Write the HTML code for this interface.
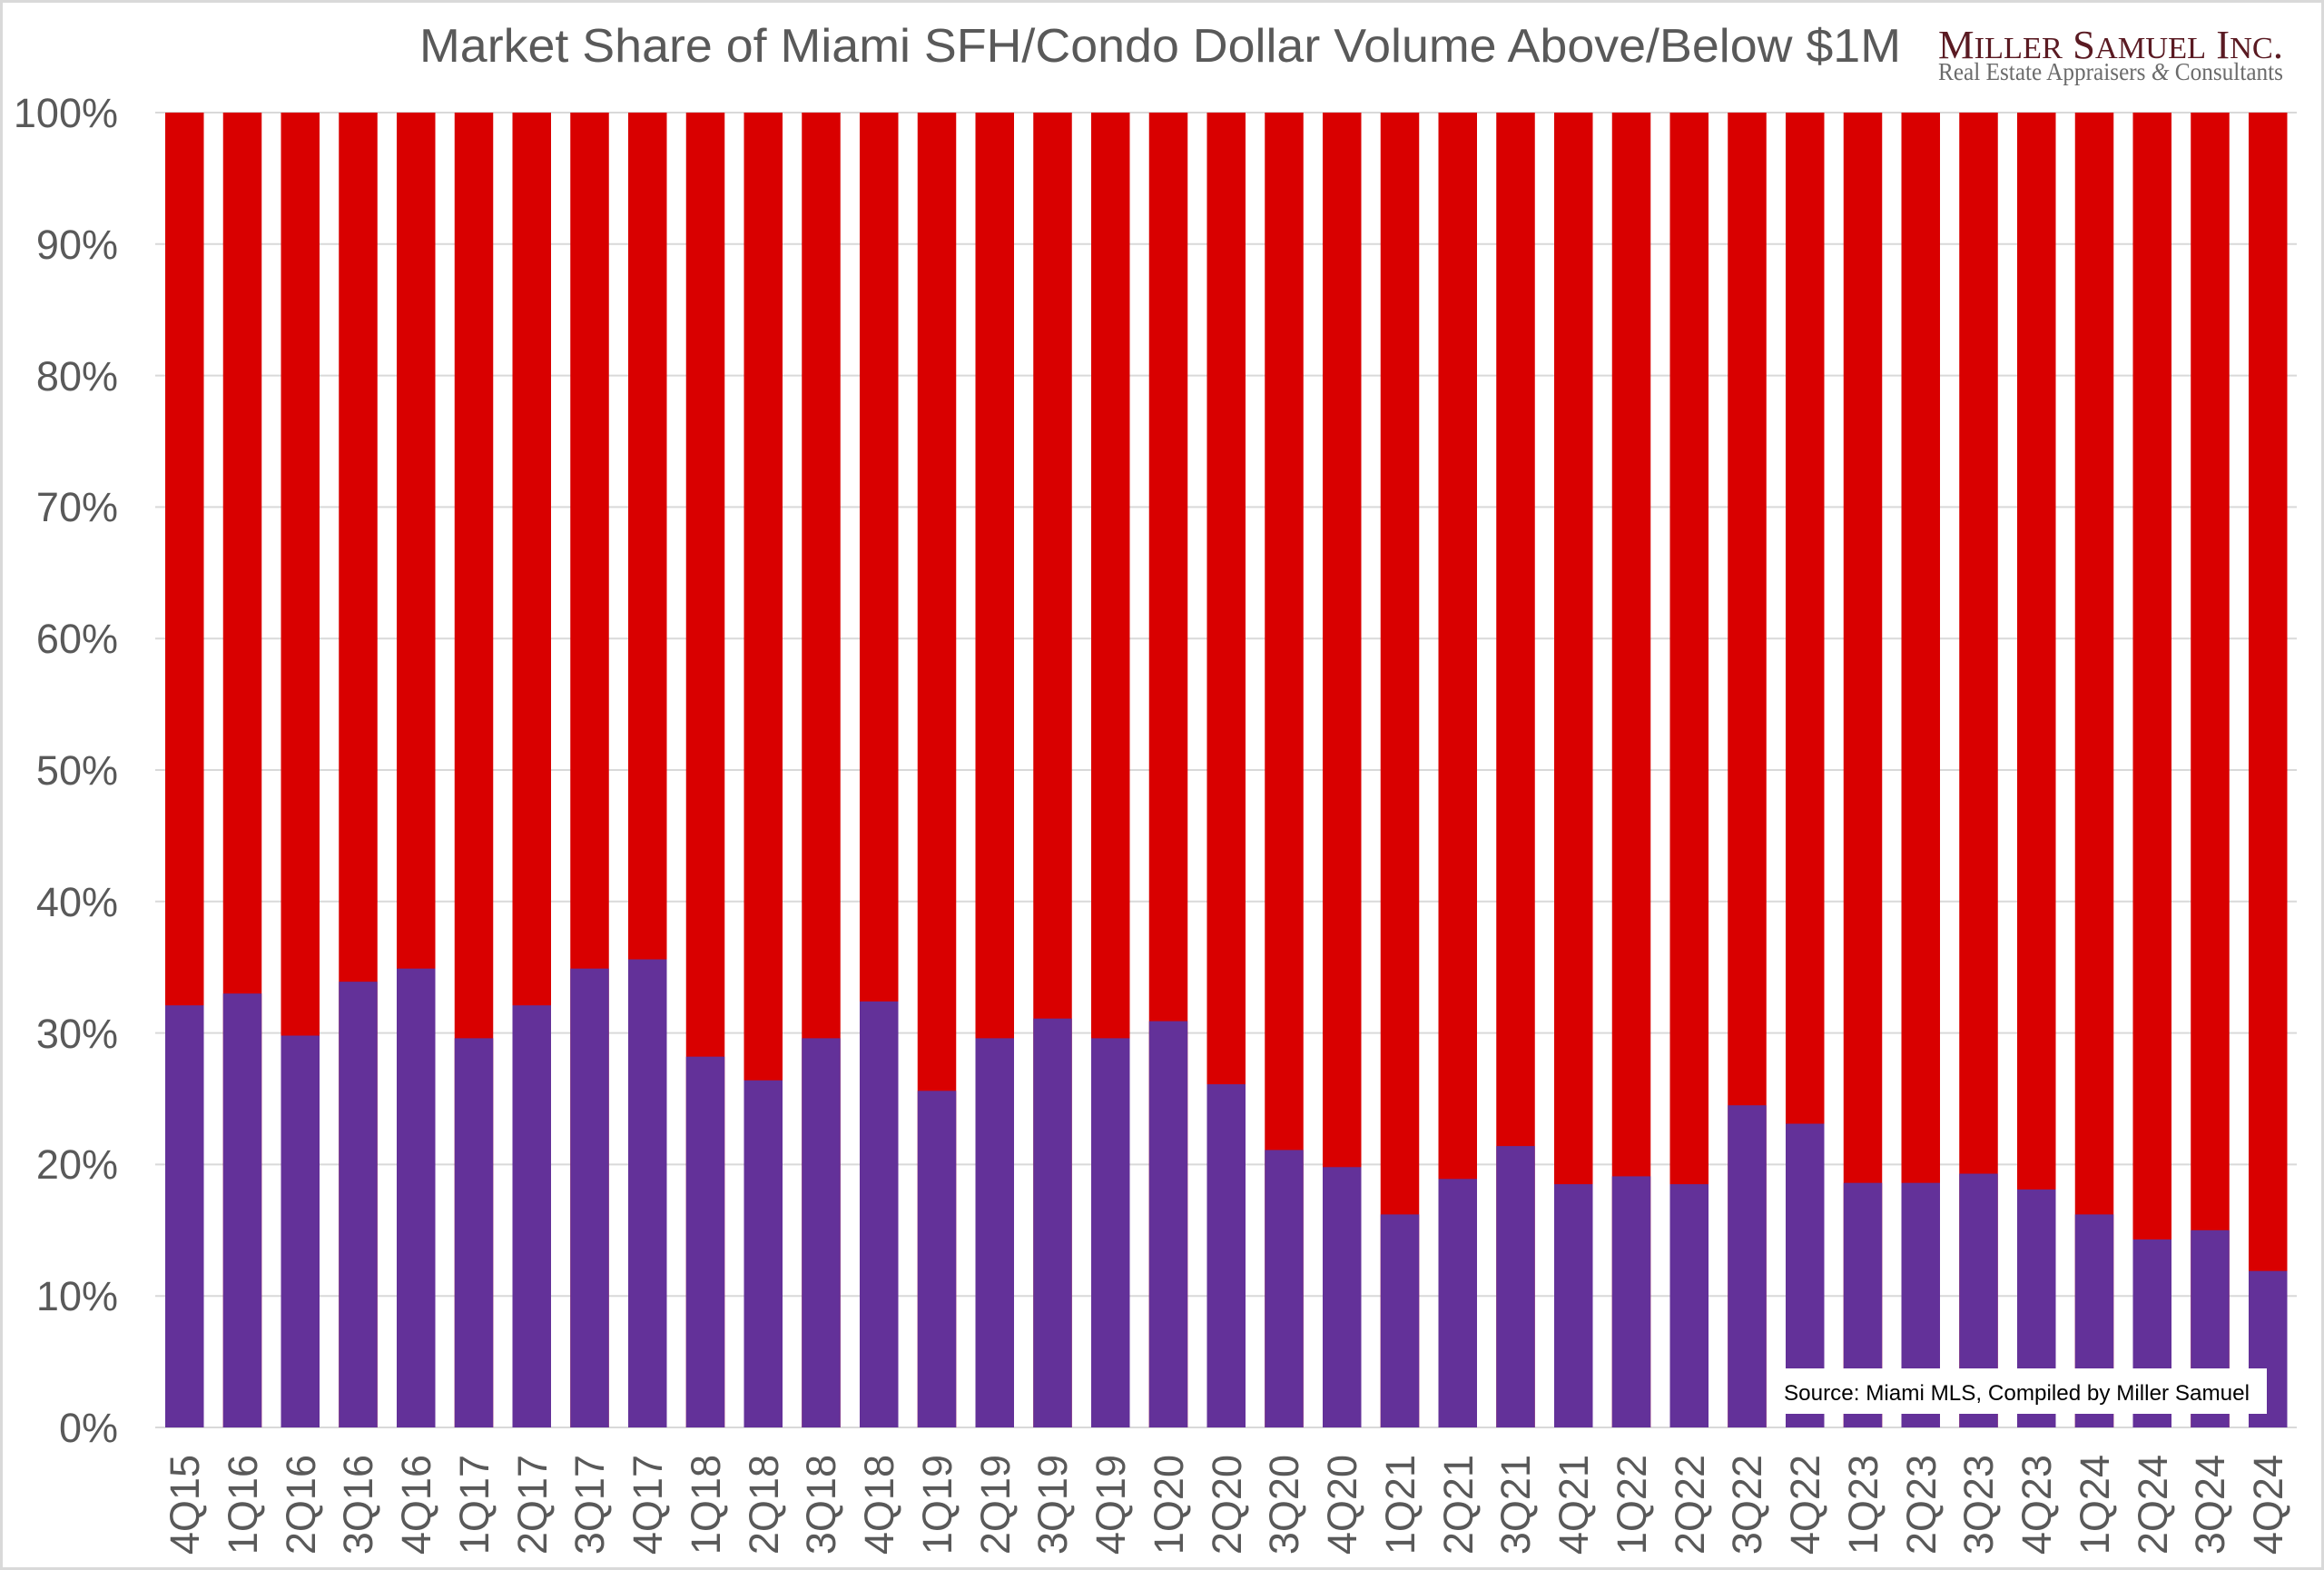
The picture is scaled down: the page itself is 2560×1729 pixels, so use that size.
<!DOCTYPE html>
<html><head><meta charset="utf-8"><style>html,body{margin:0;padding:0;background:#fff}svg{display:block}</style></head>
<body>
<svg width="2560" height="1729" viewBox="0 0 2560 1729" xmlns="http://www.w3.org/2000/svg">
<rect x="1.5" y="1.5" width="2557" height="1726" fill="#fff" stroke="#d9d9d9" stroke-width="3"/>
<text x="1278" y="68" text-anchor="middle" font-family="Liberation Sans, Arial, sans-serif" font-size="52" fill="#595959" textLength="1632" lengthAdjust="spacingAndGlyphs">Market Share of Miami SFH/Condo Dollar Volume Above/Below $1M</text>
<text x="2135" y="64" font-family="Liberation Serif, serif" font-size="44" fill="#5a1a22" textLength="380" lengthAdjust="spacingAndGlyphs">M<tspan font-size="34">ILLER</tspan> S<tspan font-size="34">AMUEL</tspan> I<tspan font-size="34">NC</tspan>.</text>
<text x="2135" y="88" font-family="Liberation Serif, serif" font-size="27" fill="#6b6b6b" textLength="380" lengthAdjust="spacingAndGlyphs">Real Estate Appraisers <tspan font-style="italic">&amp;</tspan> Consultants</text>
<g stroke="#d9d9d9" stroke-width="2">
<line x1="171" x2="2530" y1="124" y2="124"/><line x1="171" x2="2530" y1="268.8" y2="268.8"/><line x1="171" x2="2530" y1="413.6" y2="413.6"/><line x1="171" x2="2530" y1="558.4" y2="558.4"/><line x1="171" x2="2530" y1="703.2" y2="703.2"/><line x1="171" x2="2530" y1="848" y2="848"/><line x1="171" x2="2530" y1="992.8" y2="992.8"/><line x1="171" x2="2530" y1="1137.6" y2="1137.6"/><line x1="171" x2="2530" y1="1282.4" y2="1282.4"/><line x1="171" x2="2530" y1="1427.2" y2="1427.2"/><line x1="171" x2="2530" y1="1572" y2="1572"/>
</g>
<g font-family="Liberation Sans, Arial, sans-serif" font-size="45" fill="#595959" text-anchor="end">
<text x="130" y="140">100%</text><text x="130" y="285">90%</text><text x="130" y="430">80%</text><text x="130" y="574">70%</text><text x="130" y="719">60%</text><text x="130" y="864">50%</text><text x="130" y="1009">40%</text><text x="130" y="1154">30%</text><text x="130" y="1298">20%</text><text x="130" y="1443">10%</text><text x="130" y="1588">0%</text>
</g>
<g fill="#d90000">
<rect x="182" y="124" width="42.5" height="1448"/><rect x="245.75" y="124" width="42.5" height="1448"/><rect x="309.5" y="124" width="42.5" height="1448"/><rect x="373.25" y="124" width="42.5" height="1448"/><rect x="437" y="124" width="42.5" height="1448"/><rect x="500.75" y="124" width="42.5" height="1448"/><rect x="564.5" y="124" width="42.5" height="1448"/><rect x="628.25" y="124" width="42.5" height="1448"/><rect x="692" y="124" width="42.5" height="1448"/><rect x="755.75" y="124" width="42.5" height="1448"/><rect x="819.5" y="124" width="42.5" height="1448"/><rect x="883.25" y="124" width="42.5" height="1448"/><rect x="947" y="124" width="42.5" height="1448"/><rect x="1010.75" y="124" width="42.5" height="1448"/><rect x="1074.5" y="124" width="42.5" height="1448"/><rect x="1138.25" y="124" width="42.5" height="1448"/><rect x="1202" y="124" width="42.5" height="1448"/><rect x="1265.75" y="124" width="42.5" height="1448"/><rect x="1329.5" y="124" width="42.5" height="1448"/><rect x="1393.25" y="124" width="42.5" height="1448"/><rect x="1457" y="124" width="42.5" height="1448"/><rect x="1520.75" y="124" width="42.5" height="1448"/><rect x="1584.5" y="124" width="42.5" height="1448"/><rect x="1648.25" y="124" width="42.5" height="1448"/><rect x="1712" y="124" width="42.5" height="1448"/><rect x="1775.75" y="124" width="42.5" height="1448"/><rect x="1839.5" y="124" width="42.5" height="1448"/><rect x="1903.25" y="124" width="42.5" height="1448"/><rect x="1967" y="124" width="42.5" height="1448"/><rect x="2030.75" y="124" width="42.5" height="1448"/><rect x="2094.5" y="124" width="42.5" height="1448"/><rect x="2158.25" y="124" width="42.5" height="1448"/><rect x="2222" y="124" width="42.5" height="1448"/><rect x="2285.75" y="124" width="42.5" height="1448"/><rect x="2349.5" y="124" width="42.5" height="1448"/><rect x="2413.25" y="124" width="42.5" height="1448"/><rect x="2477" y="124" width="42.5" height="1448"/>
</g>
<g fill="#633199" transform="matrix(1 0 0 -14.48 0 1572)">
<rect x="182" y="0" width="42.5" height="32.1"/><rect x="245.75" y="0" width="42.5" height="33.0"/><rect x="309.5" y="0" width="42.5" height="29.8"/><rect x="373.25" y="0" width="42.5" height="33.9"/><rect x="437" y="0" width="42.5" height="34.9"/><rect x="500.75" y="0" width="42.5" height="29.6"/><rect x="564.5" y="0" width="42.5" height="32.1"/><rect x="628.25" y="0" width="42.5" height="34.9"/><rect x="692" y="0" width="42.5" height="35.6"/><rect x="755.75" y="0" width="42.5" height="28.2"/><rect x="819.5" y="0" width="42.5" height="26.4"/><rect x="883.25" y="0" width="42.5" height="29.6"/><rect x="947" y="0" width="42.5" height="32.4"/><rect x="1010.75" y="0" width="42.5" height="25.6"/><rect x="1074.5" y="0" width="42.5" height="29.6"/><rect x="1138.25" y="0" width="42.5" height="31.1"/><rect x="1202" y="0" width="42.5" height="29.6"/><rect x="1265.75" y="0" width="42.5" height="30.9"/><rect x="1329.5" y="0" width="42.5" height="26.1"/><rect x="1393.25" y="0" width="42.5" height="21.1"/><rect x="1457" y="0" width="42.5" height="19.8"/><rect x="1520.75" y="0" width="42.5" height="16.2"/><rect x="1584.5" y="0" width="42.5" height="18.9"/><rect x="1648.25" y="0" width="42.5" height="21.4"/><rect x="1712" y="0" width="42.5" height="18.5"/><rect x="1775.75" y="0" width="42.5" height="19.1"/><rect x="1839.5" y="0" width="42.5" height="18.5"/><rect x="1903.25" y="0" width="42.5" height="24.5"/><rect x="1967" y="0" width="42.5" height="23.1"/><rect x="2030.75" y="0" width="42.5" height="18.6"/><rect x="2094.5" y="0" width="42.5" height="18.6"/><rect x="2158.25" y="0" width="42.5" height="19.3"/><rect x="2222" y="0" width="42.5" height="18.1"/><rect x="2285.75" y="0" width="42.5" height="16.2"/><rect x="2349.5" y="0" width="42.5" height="14.3"/><rect x="2413.25" y="0" width="42.5" height="15.0"/><rect x="2477" y="0" width="42.5" height="11.9"/>
</g>
<rect x="1946" y="1507" width="551" height="50" fill="#fff"/>
<text x="1965" y="1542" font-family="Liberation Sans Narrow, Liberation Sans, sans-serif" font-size="24" fill="#000" textLength="513" lengthAdjust="spacingAndGlyphs">Source: Miami MLS, Compiled by Miller Samuel</text>
<g font-family="Liberation Sans, Arial, sans-serif" font-size="45" fill="#595959" text-anchor="end">
<text transform="translate(219,1602) rotate(-90)">4Q15</text>
<text transform="translate(283,1602) rotate(-90)">1Q16</text>
<text transform="translate(347,1602) rotate(-90)">2Q16</text>
<text transform="translate(410,1602) rotate(-90)">3Q16</text>
<text transform="translate(474,1602) rotate(-90)">4Q16</text>
<text transform="translate(538,1602) rotate(-90)">1Q17</text>
<text transform="translate(602,1602) rotate(-90)">2Q17</text>
<text transform="translate(665,1602) rotate(-90)">3Q17</text>
<text transform="translate(729,1602) rotate(-90)">4Q17</text>
<text transform="translate(793,1602) rotate(-90)">1Q18</text>
<text transform="translate(857,1602) rotate(-90)">2Q18</text>
<text transform="translate(920,1602) rotate(-90)">3Q18</text>
<text transform="translate(984,1602) rotate(-90)">4Q18</text>
<text transform="translate(1048,1602) rotate(-90)">1Q19</text>
<text transform="translate(1112,1602) rotate(-90)">2Q19</text>
<text transform="translate(1175,1602) rotate(-90)">3Q19</text>
<text transform="translate(1239,1602) rotate(-90)">4Q19</text>
<text transform="translate(1303,1602) rotate(-90)">1Q20</text>
<text transform="translate(1367,1602) rotate(-90)">2Q20</text>
<text transform="translate(1430,1602) rotate(-90)">3Q20</text>
<text transform="translate(1494,1602) rotate(-90)">4Q20</text>
<text transform="translate(1558,1602) rotate(-90)">1Q21</text>
<text transform="translate(1622,1602) rotate(-90)">2Q21</text>
<text transform="translate(1685,1602) rotate(-90)">3Q21</text>
<text transform="translate(1749,1602) rotate(-90)">4Q21</text>
<text transform="translate(1813,1602) rotate(-90)">1Q22</text>
<text transform="translate(1877,1602) rotate(-90)">2Q22</text>
<text transform="translate(1940,1602) rotate(-90)">3Q22</text>
<text transform="translate(2004,1602) rotate(-90)">4Q22</text>
<text transform="translate(2068,1602) rotate(-90)">1Q23</text>
<text transform="translate(2132,1602) rotate(-90)">2Q23</text>
<text transform="translate(2195,1602) rotate(-90)">3Q23</text>
<text transform="translate(2259,1602) rotate(-90)">4Q23</text>
<text transform="translate(2323,1602) rotate(-90)">1Q24</text>
<text transform="translate(2387,1602) rotate(-90)">2Q24</text>
<text transform="translate(2450,1602) rotate(-90)">3Q24</text>
<text transform="translate(2514,1602) rotate(-90)">4Q24</text>
</g>
</svg>
</body></html>
